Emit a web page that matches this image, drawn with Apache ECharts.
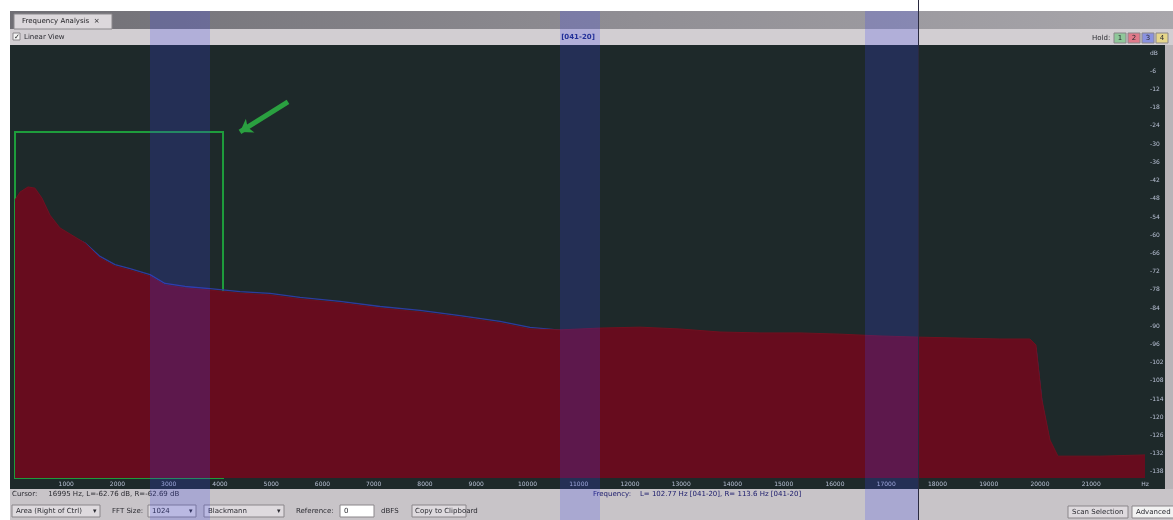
<!DOCTYPE html>
<html>
<head>
<meta charset="utf-8">
<script src="https://cdn.jsdelivr.net/npm/echarts@6/dist/echarts.min.js"></script>
<style>
html,body{margin:0;padding:0;background:#fff;}
#chart{width:1173px;height:520px;}
</style>
</head>
<body>
<div id="chart"></div>
<script>
// ---- data ----
const freqHz = [0, 98, 254, 390, 527, 683, 878, 1073, 1366, 1659, 1951, 2244, 2634, 2927, 3317, 3805, 4390, 4976, 5561, 6342, 7122, 7903, 8683, 9464, 10049, 10635, 11415, 12196, 12976, 13757, 14537, 15318, 16098, 16879, 17659, 18440, 19220, 19805, 19922, 20040, 20196, 20352, 21171, 22050];
const rightDb = [-48.4, -45.8, -44.1, -44.5, -47.8, -53.4, -57.6, -59.6, -62.6, -67.5, -70.2, -71.5, -73.5, -76.4, -77.4, -78.1, -79.1, -79.7, -81.0, -82.3, -84.0, -85.3, -87.0, -88.9, -90.9, -91.2, -90.6, -90.3, -90.9, -91.9, -92.2, -92.2, -92.6, -93.2, -93.6, -93.9, -94.2, -94.2, -96.2, -114.3, -127.5, -132.8, -132.8, -132.4];
const leftDb = [-48.9, -46.3, -44.6, -45.0, -48.3, -53.9, -58.1, -60.1, -62.6, -67.0, -69.7, -71.0, -73.0, -75.9, -76.9, -77.6, -78.6, -79.2, -80.5, -81.8, -83.5, -84.8, -86.5, -88.4, -90.4, -91.3, -91.6, -91.3, -91.9, -92.9, -93.2, -93.2, -93.6, -94.2, -94.6, -94.9, -95.2, -95.2, -97.2, -115.3, -128.5, -133.8, -133.8, -133.4];
const xTickHz = [1000, 2000, 3000, 4000, 5000, 6000, 7000, 8000, 9000, 10000, 11000, 12000, 13000, 14000, 15000, 16000, 17000, 18000, 19000, 20000, 21000, 22050];
const yTickDb = [0, -6, -12, -18, -24, -30, -36, -42, -48, -54, -60, -66, -72, -78, -84, -90, -96, -102, -108, -114, -120, -126, -132, -138];
const focusBox = {fromHz: 0, toHz: 4059, topDb: -26, bottomDb: -140};
const arrow = {fromHz: 5327, fromDb: -16.1, toHz: 4390, toDb: -26};

// ---- layout ----
const G = {left: 15, right: 28, top: 47, bottom: 42};
const bands = [[150, 60], [560, 40], [865, 53]];

const chart = echarts.init(document.getElementById('chart'), null, {renderer: 'canvas'});

const FONT = '7px "DejaVu Sans"';
const txt = (x, y, s, opt) => ({type: 'text', x: x, y: y, z: 50,
  style: Object.assign({text: s, fill: '#2a2a30', font: FONT, textVerticalAlign: 'middle'}, opt || {})});
const box = (x, y, w, h, fill, stroke) => ({type: 'rect', z: 40, shape: {x: x, y: y, width: w, height: h},
  style: {fill: fill, stroke: stroke || '#8a868a', lineWidth: 1}});

const graphics = [
  {type: 'rect', z: -5, shape: {x: 10, y: 11, width: 1163, height: 509}, style: {fill: '#c8c4c8'}},
  {type: 'rect', z: -4, shape: {x: 10, y: 11, width: 1163, height: 18},
   style: {fill: new echarts.graphic.LinearGradient(0, 0, 1, 0, [{offset: 0, color: '#6f6e74'}, {offset: 0.5, color: '#8e8c92'}, {offset: 1, color: '#a9a7ac'}])}},
  {type: 'rect', z: -3, shape: {x: 14, y: 14, width: 98, height: 15}, style: {fill: '#dcd8dc', stroke: '#8a888c'}},
  {type: 'rect', z: -4, shape: {x: 10, y: 29, width: 1163, height: 16}, style: {fill: '#d2ced2'}},
  {type: 'rect', z: -3, shape: {x: 10, y: 45, width: 1155, height: 444}, style: {fill: '#1e292a'}},
  {type: 'rect', z: -3, shape: {x: 1165, y: 45, width: 8, height: 444}, style: {fill: '#b8b4b8'}},
  txt(22, 21, 'Frequency Analysis  ×', {fill: '#202024'}),
  box(13, 33, 7, 7, '#f4f4f4'),
  txt(14, 37, '✓', {font: '7px "DejaVu Sans"', fill: '#202020'}),
  txt(24, 37, 'Linear View'),
  txt(578, 37, '[041-20]', {textAlign: 'center', fill: '#1a2a80', font: 'bold 7px "DejaVu Sans"'}),
  txt(1092, 38, 'Hold:'),
  box(1114, 33, 12, 10, '#8fc89a'), txt(1120, 38, '1', {textAlign: 'center'}),
  box(1128, 33, 12, 10, '#e07a8a'), txt(1134, 38, '2', {textAlign: 'center'}),
  box(1142, 33, 12, 10, '#8a92e0'), txt(1148, 38, '3', {textAlign: 'center'}),
  box(1156, 33, 12, 10, '#e6d68a'), txt(1162, 38, '4', {textAlign: 'center'}),
  txt(12, 494, 'Cursor:     16995 Hz, L=-62.76 dB, R=-62.69 dB'),
  txt(593, 494, 'Frequency:    L= 102.77 Hz [041-20], R= 113.6 Hz [041-20]', {fill: '#18186a'}),
  box(12, 505, 88, 12, '#dedade'), txt(16, 511, 'Area (Right of Ctrl)'), txt(93, 511, '▾'),
  txt(112, 511, 'FFT Size:'),
  box(148, 505, 48, 12, '#dedade'), txt(152, 511, '1024'), txt(189, 511, '▾'),
  box(204, 505, 80, 12, '#dedade'), txt(208, 511, 'Blackmann'), txt(277, 511, '▾'),
  txt(296, 511, 'Reference:'),
  box(340, 505, 34, 12, '#ffffff'), txt(344, 511, '0'),
  txt(381, 511, 'dBFS'),
  box(412, 505, 54, 12, '#dedade'), txt(415, 511, 'Copy to Clipboard'),
  box(1068, 506, 60, 12, '#dedade'), txt(1072, 512, 'Scan Selection'),
  box(1132, 506, 45, 12, '#f2f2f2'), txt(1136, 512, 'Advanced')
];
bands.forEach(b => graphics.push({type: 'rect', z: 100, silent: true,
  shape: {x: b[0], y: 11, width: b[1], height: 509}, style: {fill: 'rgba(60,70,240,0.22)'}}));
graphics.push({type: 'line', z: 101, shape: {x1: 918.5, y1: 0, x2: 918.5, y2: 520}, style: {stroke: '#2a2a40', lineWidth: 1}});

const option = {
  backgroundColor: '#ffffff',
  animation: false,
  grid: {left: G.left, right: G.right, top: G.top, bottom: G.bottom, containLabel: false},
  xAxis: {
    type: 'value', min: 0, max: 22050,
    axisLine: {show: false}, axisTick: {show: false}, splitLine: {show: false},
    axisLabel: {customValues: xTickHz, color: '#b8c0d4', fontSize: 6, margin: 3,
      fontFamily: 'DejaVu Sans',
      formatter: v => v === 22050 ? 'Hz' : String(v)}
  },
  yAxis: {
    type: 'value', position: 'right', min: -140, max: 2,
    axisLine: {show: false},
    axisTick: {show: false, customValues: yTickDb},
    splitLine: {show: false},
    axisLabel: {customValues: yTickDb, color: '#b8c0d4', fontSize: 6, margin: 5,
      fontFamily: 'DejaVu Sans', formatter: v => v === 0 ? 'dB' : String(v)}
  },
  graphic: graphics,
  series: [
    {
      name: 'L', type: 'line', z: 2, showSymbol: false, smooth: false,
      data: freqHz.map((f, i) => [f, leftDb[i]]),
      lineStyle: {color: '#2c3c9e', width: 1.3}
    },
    {
      name: 'R', type: 'line', z: 3, showSymbol: false, smooth: false,
      data: freqHz.map((f, i) => [f, rightDb[i]]),
      lineStyle: {color: '#70101f', width: 1},
      areaStyle: {color: '#670c1e', opacity: 1, origin: 'start'},
      markArea: {
        silent: true,
        itemStyle: {color: 'rgba(0,0,0,0)', borderColor: '#1e9c3c', borderWidth: 2},
        data: [[{xAxis: focusBox.fromHz, yAxis: focusBox.topDb}, {xAxis: focusBox.toHz, yAxis: focusBox.bottomDb}]]
      },
      markLine: {
        silent: true, symbol: ['none', 'arrow'], symbolSize: [12, 12],
        label: {show: false},
        lineStyle: {color: '#2aa040', width: 5, type: 'solid'},
        data: [[{coord: [arrow.fromHz, arrow.fromDb]}, {coord: [arrow.toHz, arrow.toDb]}]]
      }
    }
  ]
};
chart.setOption(option);
</script>
</body>
</html>
